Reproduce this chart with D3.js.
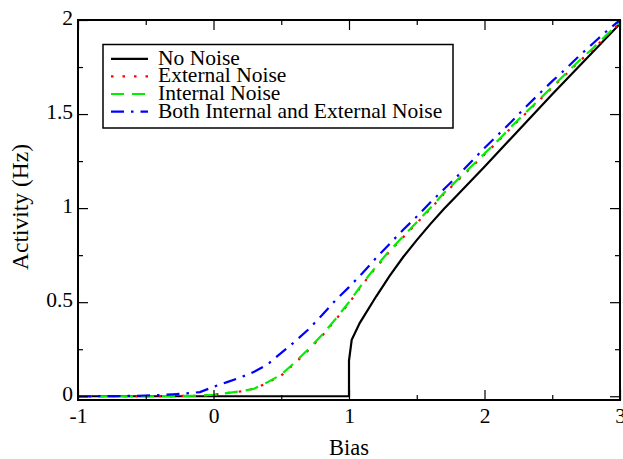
<!DOCTYPE html>
<html>
<head>
<meta charset="utf-8">
<script src="https://cdn.jsdelivr.net/npm/d3@7"></script>
<style>
  html, body { margin: 0; padding: 0; background: #fff; }
  text { font-family: "Liberation Serif", "Times New Roman", serif; }
</style>
</head>
<body>
<div id="chart"></div>
<script>
// Data
var bias = [-1, -0.9, -0.8, -0.7, -0.6, -0.5, -0.4, -0.3, -0.2, -0.1,
            0, 0.1, 0.2, 0.3, 0.4, 0.5, 0.6, 0.7, 0.8, 0.9,
            1, 1.1, 1.2, 1.3, 1.4, 1.5, 1.6, 1.7, 1.8, 1.9,
            2, 2.1, 2.2, 2.3, 2.4, 2.5, 2.6, 2.7, 2.8, 2.9, 3];

var noNoiseBias     = [-1, 0, 0.5, 1, 1, 1.02, 1.08, 1.2, 1.3, 1.4, 1.5, 1.6, 1.7, 1.8, 2, 2.5, 3];
var noNoiseActivity = [0, 0, 0, 0, 0.19, 0.3, 0.39, 0.53, 0.64, 0.74, 0.83, 0.915, 0.995, 1.07, 1.22, 1.605, 1.98];

var externalActivity = [0, 0, 0, 0, 0, 0, 0, 0.001, 0.002, 0.003,
                        0.008, 0.017, 0.026, 0.04, 0.072, 0.11, 0.175, 0.245, 0.32, 0.405,
                        0.495, 0.595, 0.685, 0.77, 0.845, 0.92, 0.995, 1.075, 1.145, 1.215,
                        1.285, 1.355, 1.43, 1.5, 1.57, 1.64, 1.71, 1.78, 1.845, 1.915, 1.985];

var internalActivity = [0, 0, 0, 0, 0, 0, 0, 0.001, 0.002, 0.003,
                        0.008, 0.017, 0.026, 0.04, 0.075, 0.115, 0.18, 0.25, 0.325, 0.41,
                        0.5, 0.6, 0.69, 0.775, 0.85, 0.925, 1.0, 1.08, 1.15, 1.22,
                        1.29, 1.36, 1.435, 1.505, 1.575, 1.645, 1.715, 1.785, 1.85, 1.92, 1.99];

var bothActivity = [0, 0, 0.001, 0.001, 0.002, 0.004, 0.006, 0.01, 0.015, 0.022,
                    0.05, 0.075, 0.1, 0.13, 0.17, 0.23, 0.29, 0.355, 0.43, 0.51,
                    0.58, 0.655, 0.735, 0.81, 0.885, 0.955, 1.03, 1.1, 1.17, 1.245,
                    1.32, 1.39, 1.46, 1.535, 1.605, 1.675, 1.74, 1.81, 1.875, 1.94, 2.0];

var seriesNames = ["No Noise", "External Noise", "Internal Noise", "Both Internal and External Noise"];

var xTickValues = [-1, 0, 1, 2, 3];
var xTickLabels = ["-1", "0", "1", "2", "3"];
var xMinorValues = [-0.5, 0.5, 1.5, 2.5];
var yTickValues = [0, 0.5, 1, 1.5, 2];
var yTickLabels = ["0", "0.5", "1", "1.5", "2"];
var yMinorValues = [0.25, 0.75, 1.25, 1.75];

// Series table
var series = [
  { name: seriesNames[0], xs: noNoiseBias, ys: noNoiseActivity, color: "#000000", dash: null, width: 2.2 },
  { name: seriesNames[1], xs: bias, ys: externalActivity, color: "#ff0000", dash: "2.5,9", width: 2.2 },
  { name: seriesNames[2], xs: bias, ys: internalActivity, color: "#00ee00", dash: "13,8", width: 2.2 },
  { name: seriesNames[3], xs: bias, ys: bothActivity, color: "#0000ff", dash: "13,7,2.5,7", width: 2.2 }
];

// Chart Size
var width = 623;
var height = 459;
var plotLeft = 78, plotRight = 620, plotTop = 20, plotBottom = 400;
var fontSize = 21.5;

var xScale = d3.scaleLinear().domain([-1, 3]).range([plotLeft, plotRight]);
var yScale = d3.scaleLinear().domain([-0.02, 2]).range([plotBottom, plotTop]);

var chart = d3.select('#chart')
              .append('svg')
              .attr('width', width)
              .attr('height', height);

chart.append('clipPath')
     .attr('id', 'plot-clip')
     .append('rect')
     .attr('x', plotLeft).attr('y', plotTop)
     .attr('width', plotRight - plotLeft).attr('height', plotBottom - plotTop);

// Lines
var line = d3.line()
             .x(function(d) { return xScale(d[0]); })
             .y(function(d) { return yScale(d[1]); });

chart.append('g')
     .attr('clip-path', 'url(#plot-clip)')
     .selectAll('path')
     .data(series)
     .enter()
     .append('path')
     .attr('fill', 'none')
     .attr('stroke', function(d) { return d.color; })
     .attr('stroke-width', function(d) { return d.width; })
     .attr('stroke-dasharray', function(d) { return d.dash; })
     .attr('d', function(d) {
       return line(d.xs.map(function(x, i) { return [x, d.ys[i]]; }));
     });

// Axes (ticks point inward)
function styleAxis(g) {
  g.select('.domain').remove();
  g.selectAll('line').attr('stroke', '#000').attr('stroke-width', 1.2);
  g.attr('font-size', fontSize)
   .attr('font-family', '"Liberation Serif", "Times New Roman", serif');
  g.selectAll('text').attr('fill', '#000');
}

chart.append('g')
     .attr('transform', 'translate(0,' + plotBottom + ')')
     .call(d3.axisBottom(xScale).tickValues(xTickValues)
             .tickFormat(function(d, i) { return xTickLabels[i]; })
             .tickSizeInner(-10).tickSizeOuter(0).tickPadding(8))
     .call(styleAxis);
chart.append('g')
     .attr('transform', 'translate(0,' + plotBottom + ')')
     .call(d3.axisBottom(xScale).tickValues(xMinorValues).tickFormat('')
             .tickSizeInner(-5).tickSizeOuter(0))
     .call(styleAxis);
chart.append('g')
     .attr('transform', 'translate(0,' + plotTop + ')')
     .call(d3.axisTop(xScale).tickValues(xTickValues).tickFormat('')
             .tickSizeInner(-10).tickSizeOuter(0))
     .call(styleAxis);
chart.append('g')
     .attr('transform', 'translate(0,' + plotTop + ')')
     .call(d3.axisTop(xScale).tickValues(xMinorValues).tickFormat('')
             .tickSizeInner(-5).tickSizeOuter(0))
     .call(styleAxis);

chart.append('g')
     .attr('transform', 'translate(' + plotLeft + ',0)')
     .call(d3.axisLeft(yScale).tickValues(yTickValues)
             .tickFormat(function(d, i) { return yTickLabels[i]; })
             .tickSizeInner(-10).tickSizeOuter(0).tickPadding(5))
     .call(styleAxis)
     .selectAll('text').attr('dy', '0.2em');
chart.append('g')
     .attr('transform', 'translate(' + plotLeft + ',0)')
     .call(d3.axisLeft(yScale).tickValues(yMinorValues).tickFormat('')
             .tickSizeInner(-5).tickSizeOuter(0))
     .call(styleAxis);
chart.append('g')
     .attr('transform', 'translate(' + plotRight + ',0)')
     .call(d3.axisRight(yScale).tickValues(yTickValues).tickFormat('')
             .tickSizeInner(-10).tickSizeOuter(0))
     .call(styleAxis);
chart.append('g')
     .attr('transform', 'translate(' + plotRight + ',0)')
     .call(d3.axisRight(yScale).tickValues(yMinorValues).tickFormat('')
             .tickSizeInner(-5).tickSizeOuter(0))
     .call(styleAxis);

// Frame
chart.append('rect')
     .attr('x', plotLeft).attr('y', plotTop)
     .attr('width', plotRight - plotLeft).attr('height', plotBottom - plotTop)
     .attr('fill', 'none')
     .attr('stroke', '#000')
     .attr('stroke-width', 2);

// Axis titles
chart.append('text')
     .attr('x', (plotLeft + plotRight) / 2)
     .attr('y', 455)
     .attr('text-anchor', 'middle')
     .attr('font-size', 22.5)
     .text('Bias');
chart.append('text')
     .attr('transform', 'translate(28,' + 207 + ') rotate(-90)')
     .attr('text-anchor', 'middle')
     .attr('font-size', 23.5)
     .text('Activity (Hz)');

// Legend
var legend = chart.append('g');
legend.append('rect')
      .attr('x', 103).attr('y', 44.5)
      .attr('width', 350).attr('height', 83.5)
      .attr('fill', '#fff')
      .attr('stroke', '#000')
      .attr('stroke-width', 1.5);
var rows = legend.selectAll('g.row')
                 .data(series)
                 .enter()
                 .append('g')
                 .attr('class', 'row')
                 .attr('transform', function(d, i) { return 'translate(0,' + (64.8 + i * 17.6) + ')'; });
rows.append('line')
    .attr('x1', 111).attr('x2', 148)
    .attr('y1', -6).attr('y2', -6)
    .attr('stroke', function(d) { return d.color; })
    .attr('stroke-width', function(d) { return d.width; })
    .attr('stroke-dasharray', function(d) { return d.dash; });
rows.append('text')
    .attr('x', 158)
    .attr('font-size', fontSize)
    .text(function(d) { return d.name; });
</script>
</body>
</html>
